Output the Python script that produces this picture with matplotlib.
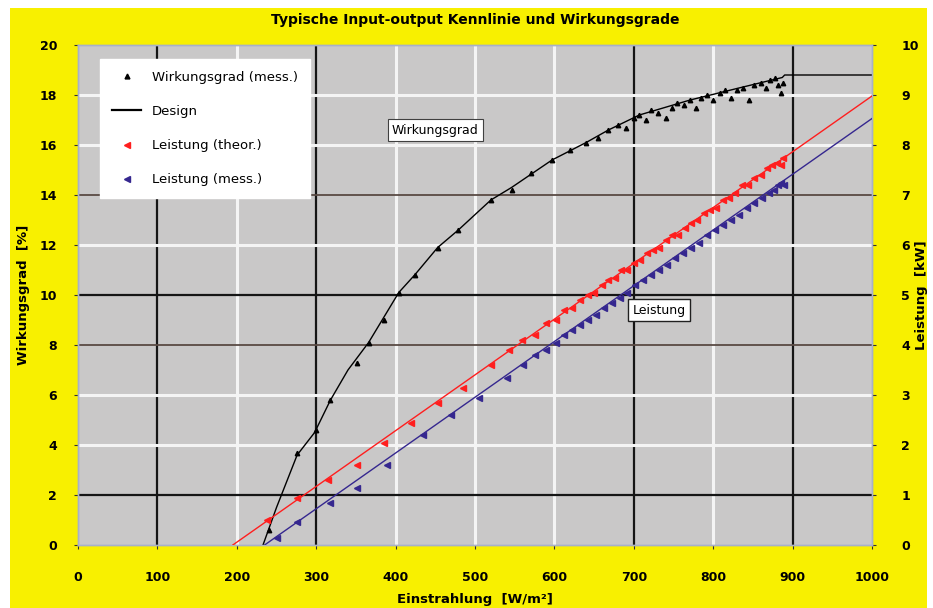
import matplotlib
matplotlib.use('Agg')
import matplotlib.pyplot as plt
from matplotlib.patches import Rectangle
from matplotlib.lines import Line2D

# design efficiency curve (Einstrahlung W/m2 -> Wirkungsgrad %)
design_irr = [233, 250, 276, 298, 318, 340, 366, 385, 404, 424, 453, 479, 520, 546,
              597, 640, 668, 707, 771, 835, 887, 890, 1000]
design_eta = [0.0, 1.5, 3.6, 4.5, 5.8, 7.0, 8.1, 9.1, 10.1, 10.8, 11.9, 12.6, 13.8, 14.3,
              15.4, 16.1, 16.6, 17.2, 17.8, 18.3, 18.7, 18.8, 18.8]

# measured efficiency
eta_irr = [240, 276, 300, 318, 352, 366, 385, 404, 424, 453, 479, 520, 546, 570, 597,
           620, 640, 655, 668, 680, 690, 700, 707, 715, 722, 730, 740, 748, 755, 763,
           771, 778, 785, 792, 800, 808, 815, 822, 830, 838, 845, 852, 860, 866, 872,
           878, 882, 885, 888]
eta_val = [0.6, 3.7, 4.6, 5.8, 7.3, 8.1, 9.0, 10.1, 10.8, 11.9, 12.6, 13.8, 14.2, 14.9, 15.4,
           15.8, 16.1, 16.3, 16.6, 16.8, 16.7, 17.1, 17.2, 17.0, 17.4, 17.3, 17.1, 17.5, 17.7, 17.6,
           17.8, 17.5, 17.9, 18.0, 17.8, 18.1, 18.2, 17.9, 18.2, 18.3, 17.8, 18.4, 18.5, 18.3, 18.6,
           18.7, 18.4, 18.1, 18.5]

# power lines (kW)
red_line_irr = [195, 1000]
red_line_pw = [0.0, 8.98]
blue_line_irr = [235, 1000]
blue_line_pw = [0.0, 8.53]

# Leistung (theor.)
red_irr = [238, 276, 315, 352, 386, 420, 453, 485, 520, 543, 559, 575, 590, 602, 612,
           622, 632, 642, 650, 660, 668, 676, 684, 692, 700, 708, 716, 724, 732, 740,
           748, 756, 764, 772, 780, 788, 796, 804, 812, 820, 828, 836, 844, 852, 860,
           868, 874, 880, 885, 888]
red_pw = [0.5, 0.95, 1.3, 1.6, 2.05, 2.45, 2.85, 3.15, 3.6, 3.9, 4.1, 4.2, 4.45, 4.5, 4.7,
          4.75, 4.9, 5.0, 5.05, 5.2, 5.3, 5.35, 5.5, 5.5, 5.65, 5.7, 5.85, 5.9, 5.95, 6.1,
          6.2, 6.2, 6.35, 6.45, 6.5, 6.65, 6.7, 6.75, 6.9, 6.95, 7.05, 7.2, 7.2, 7.35, 7.4,
          7.55, 7.6, 7.65, 7.6, 7.75]

# Leistung (mess.)
blue_irr = [250, 276, 317, 352, 389, 435, 470, 505, 540, 560, 575, 590, 602, 612, 622,
            632, 642, 652, 662, 672, 682, 692, 702, 712, 722, 732, 742, 752, 762, 772,
            782, 792, 802, 812, 822, 832, 842, 852, 862, 870, 876, 882, 886, 889]
blue_pw = [0.15, 0.46, 0.84, 1.14, 1.6, 2.2, 2.6, 2.95, 3.35, 3.6, 3.8, 3.9, 4.05, 4.2, 4.3,
           4.4, 4.5, 4.6, 4.75, 4.85, 4.95, 5.05, 5.2, 5.3, 5.4, 5.5, 5.6, 5.75, 5.85, 5.95,
           6.05, 6.2, 6.3, 6.4, 6.5, 6.6, 6.75, 6.85, 6.95, 7.05, 7.1, 7.2, 7.25, 7.2]

yellow = '#f8f000'
red = '#ff1e1e'
blue = '#35278f'

fig = plt.figure(figsize=(9.33, 6.08), dpi=100)
fig.patches.append(Rectangle((10 / 933, 0), 917 / 933, 600 / 608, transform=fig.transFigure,
                             facecolor=yellow, edgecolor='none', zorder=-10))

ax = fig.add_axes([78 / 933, 63 / 608, 794 / 933, 500 / 608])
ax.set_facecolor('#c9c8c8')
ax.set_xlim(0, 1000)
ax.set_ylim(0, 20)
ax.set_xticks(range(0, 1001, 100))
ax.set_yticks(range(0, 21, 2))

# grid lines
for gx in range(100, 1000, 100):
    if gx in (100, 300, 700, 900):
        ax.axvline(gx, color='#151515', lw=1.6, zorder=1)
    else:
        ax.axvline(gx, color='#f4f4f4', lw=2.2, zorder=1)
for gy in range(2, 20, 2):
    if gy in (2, 10):
        ax.axhline(gy, color='#151515', lw=1.6, zorder=1)
    elif gy in (8, 14):
        ax.axhline(gy, color='#5a4a44', lw=1.3, zorder=1)
    else:
        ax.axhline(gy, color='#f4f4f4', lw=2.2, zorder=1)

ax.plot(design_irr, design_eta, color='black', lw=1.0, zorder=3)
ax.plot(eta_irr, eta_val, linestyle='none', marker='^', ms=3.2, color='black', zorder=4)

ax2 = ax.twinx()
ax2.set_ylim(0, 10)
ax2.set_yticks(range(0, 11, 1))
ax2.plot(red_line_irr, red_line_pw, color=red, lw=1.0, zorder=3)
ax2.plot(blue_line_irr, blue_line_pw, color=blue, lw=1.0, zorder=3)
ax2.plot(red_irr, red_pw, linestyle='none', marker='<', ms=4.5, color=red, zorder=4)
ax2.plot(blue_irr, blue_pw, linestyle='none', marker='<', ms=4, color=blue, zorder=4)

for a in (ax, ax2):
    for s in a.spines.values():
        s.set_color('#a8b0c8')
        s.set_linewidth(1.0)
    a.tick_params(length=3, color='#303030', labelsize=9)

ax.tick_params(axis='x', pad=16)
ax.tick_params(axis='y', pad=12)
ax2.tick_params(axis='y', pad=18)
for lab in ax.get_xticklabels() + ax.get_yticklabels() + ax2.get_yticklabels():
    lab.set_fontweight('bold')

ax.set_xlabel('Einstrahlung  [W/m²]', fontsize=9.5, fontweight='bold', labelpad=6)
ax.set_ylabel('Wirkungsgrad  [%]', fontsize=9.5, fontweight='bold')
ax2.set_ylabel('Leistung  [kW]', fontsize=9.5, fontweight='bold', rotation=90)
ax.yaxis.set_label_coords(-0.060, 0.5)
ax2.yaxis.set_label_coords(1.054, 0.5)
fig.text(475 / 933, 1 - 20 / 608, 'Typische Input-output Kennlinie und Wirkungsgrade',
         ha='center', va='center', fontsize=10, fontweight='bold')

ax2.text(450, 8.3, 'Wirkungsgrad', ha='center', va='center', fontsize=9, zorder=6,
         bbox=dict(boxstyle='square,pad=0.35', facecolor='white', edgecolor='#404040', lw=0.8))
ax2.text(732, 4.7, 'Leistung', ha='center', va='center', fontsize=9, zorder=6,
         bbox=dict(boxstyle='square,pad=0.35', facecolor='white', edgecolor='#202020', lw=1.0))

handles = [
    Line2D([], [], linestyle='none', marker='^', ms=3.5, color='black'),
    Line2D([], [], color='black', lw=1.6),
    Line2D([], [], linestyle='none', marker='<', ms=4.5, color=red),
    Line2D([], [], linestyle='none', marker='<', ms=4, color=blue),
]
labels = ['Wirkungsgrad (mess.)', 'Design', 'Leistung (theor.)', 'Leistung (mess.)']
leg = ax2.legend(handles, labels, loc='upper left', bbox_to_anchor=(0.02, 0.985),
                 frameon=True, fancybox=False, framealpha=1, edgecolor='white',
                 fontsize=9.5, handlelength=2.2, labelspacing=1.6, borderpad=0.9)
leg.set_zorder(10)

fig.savefig('out.png', dpi=100)
